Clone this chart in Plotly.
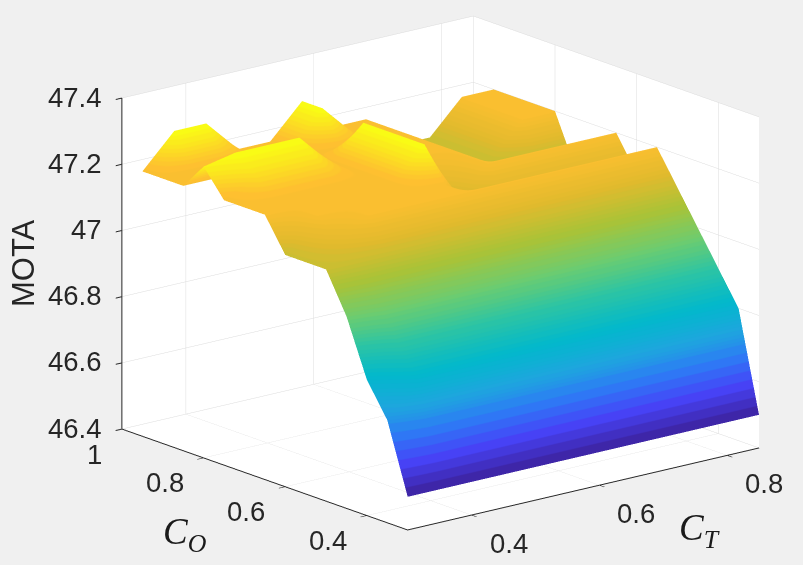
# MOTA surface over C_T / C_O, MATLAB-style view
import numpy as np
import plotly.graph_objects as go

c_t = [0.30, 0.35, 0.40, 0.45, 0.50, 0.55, 0.60, 0.65, 0.70, 0.75, 0.80, 0.85]
c_o = [0.30, 0.35, 0.40, 0.45, 0.50, 0.55, 0.60, 0.65, 0.70, 0.75, 0.80, 0.85, 0.90, 0.95]

# one row per C_O value, one column per C_T value
mota = [
    [46.50, 46.50, 46.50, 46.50, 46.50, 46.50, 46.50, 46.50, 46.50, 46.50, 46.50, 46.50],
    [46.71, 46.80, 46.80, 46.80, 46.80, 46.80, 46.80, 46.80, 46.80, 46.80, 46.80, 46.80],
    [46.81, 46.90, 46.90, 46.90, 46.90, 46.90, 46.90, 46.90, 46.90, 46.90, 46.90, 46.90],
    [46.98, 47.00, 47.00, 47.00, 47.00, 47.00, 47.00, 47.00, 47.00, 47.00, 47.00, 47.00],
    [47.10, 47.10, 47.10, 47.10, 47.10, 47.10, 47.10, 47.10, 47.10, 47.10, 47.10, 47.10],
    [47.10, 47.15, 47.20, 47.20, 47.20, 47.20, 47.20, 47.20, 47.20, 47.20, 47.20, 47.20],
    [47.10, 47.20, 47.20, 47.20, 47.20, 47.20, 47.10, 47.10, 47.10, 47.10, 47.10, 47.10],
    [47.20, 47.20, 47.20, 47.20, 47.20, 47.30, 47.10, 47.20, 47.20, 47.20, 47.20, 47.20],
    [47.20, 47.20, 47.20, 47.20, 47.20, 47.30, 47.15, 47.20, 47.05, 47.05, 47.05, 47.05],
    [47.20, 47.25, 47.25, 47.25, 47.20, 47.30, 47.20, 47.20, 47.10, 47.05, 47.05, 47.05],
    [47.28, 47.30, 47.30, 47.30, 47.20, 47.30, 47.20, 47.20, 47.10, 47.10, 47.20, 47.20],
    [47.20, 47.20, 47.20, 47.20, 47.20, 47.20, 47.20, 47.20, 47.10, 47.10, 47.20, 47.20],
    [47.20, 47.20, 47.20, 47.20, 47.20, 47.30, 47.20, 47.20, 47.10, 47.10, 47.20, 47.20],
    [47.20, 47.30, 47.30, 47.20, 47.20, 47.30, 47.20, 47.20, 47.10, 47.10, 47.20, 47.20],
]

x_ticks = [0.4, 0.6, 0.8]
y_ticks = [0.4, 0.6, 0.8, 1]
z_ticks = [46.4, 46.6, 46.8, 47, 47.2, 47.4]
z_labels = ["46.4", "46.6", "46.8", "47", "47.2", "47.4"]

# parula anchors; coarse flat bands in the blues, finer ones above
anchors = [
    (62, 38, 168), (71, 67, 248), (45, 123, 245), (30, 166, 222), (2, 184, 204),
    (44, 196, 164), (110, 204, 110), (170, 195, 55), (225, 186, 45), (254, 192, 48), (249, 251, 21),
]


def parula(u):
    t = u * (len(anchors) - 1)
    a = min(int(t), len(anchors) - 2)
    f = t - a
    rgb = [round(anchors[a][k] + (anchors[a + 1][k] - anchors[a][k]) * f) for k in range(3)]
    return f"rgb({rgb[0]},{rgb[1]},{rgb[2]})"


edges = [i / 32 for i in range(8)] + [0.25 + i * 0.75 / 60 for i in range(61)]
stops = []
for lo, hi in zip(edges[:-1], edges[1:]):
    col = parula(lo / (1 - (hi - lo)) if hi < 1 else 1.0)
    stops.append([lo, col])
    stops.append([hi, col])

W, H = 803, 565
BG = "#f0f0f0"
INK = "#262626"
GRID = "#dcdcdc"
SCALE = 1.659


def axis_style(rng, ticks):
    return dict(
        range=rng, tickvals=ticks,
        title=dict(text=""), showbackground=True, backgroundcolor="white",
        gridcolor=GRID, gridwidth=1, zeroline=False, showspikes=False,
        showline=True, linecolor=INK, linewidth=2, ticks="inside", ticklen=8,
        tickcolor=INK, tickwidth=2, showticklabels=False,
    )


fig = go.Figure(go.Surface(
    x=c_t, y=c_o, z=np.array(mota),
    colorscale=stops, cmin=46.5, cmax=47.3, showscale=False, hoverinfo="skip",
    lighting=dict(ambient=1, diffuse=0, specular=0, roughness=1, fresnel=0),
))

tick_font = dict(family="Liberation Sans", size=27.5, color=INK)
labels = []
for v in x_ticks:
    labels.append(dict(x=v, y=0.3, z=46.4, text=str(v), showarrow=False, font=tick_font, xshift=37, yshift=-28))
for v in y_ticks:
    labels.append(dict(x=0.3, y=v, z=46.4, text=str(v), showarrow=False, font=tick_font, xanchor="right", xshift=-18, yshift=-25))
for v, s in zip(z_ticks, z_labels):
    labels.append(dict(x=0.3, y=1, z=v, text=s, showarrow=False, font=tick_font, xanchor="right", xshift=-18, yshift=1))

fig.update_layout(
    width=W, height=H, paper_bgcolor=BG, margin=dict(l=0, r=0, t=0, b=0),
    showlegend=False,
    scene=dict(
        domain=dict(x=[78 / W, 1], y=[19 / H, 1]),
        xaxis=axis_style([0.3, 0.85], x_ticks),
        yaxis=axis_style([0.3, 1], y_ticks),
        zaxis=axis_style([46.4, 47.4], z_ticks),
        aspectmode="manual", aspectratio=dict(x=SCALE, y=SCALE, z=0.763 * SCALE),
        camera=dict(
            projection=dict(type="orthographic"),
            eye=dict(x=-0.604, y=-0.743, z=0.287),
            up=dict(x=0, y=0, z=1), center=dict(x=0, y=0, z=0),
        ),
        bgcolor=BG,
        annotations=labels,
    ),
)

title_opts = dict(xref="paper", yref="paper", xanchor="center", yanchor="middle", showarrow=False)
fig.add_annotation(text="MOTA", x=24 / W, y=1 - 263 / H, textangle=-90,
                   font=dict(family="Liberation Sans", size=31, color=INK), **title_opts)
fig.add_annotation(text="<i>C</i><sub><i>O</i></sub>", x=185 / W, y=1 - 534 / H,
                   font=dict(family="Liberation Serif", size=37, color="#1a1a1a"), **title_opts)
fig.add_annotation(text="<i>C</i><sub><i>T</i></sub>", x=699 / W, y=1 - 530 / H,
                   font=dict(family="Liberation Serif", size=37, color="#1a1a1a"), **title_opts)

fig.write_html("out.html", config=dict(displayModeBar=False),
               post_script="document.body.style.margin='0';document.body.style.background='#f0f0f0';")
